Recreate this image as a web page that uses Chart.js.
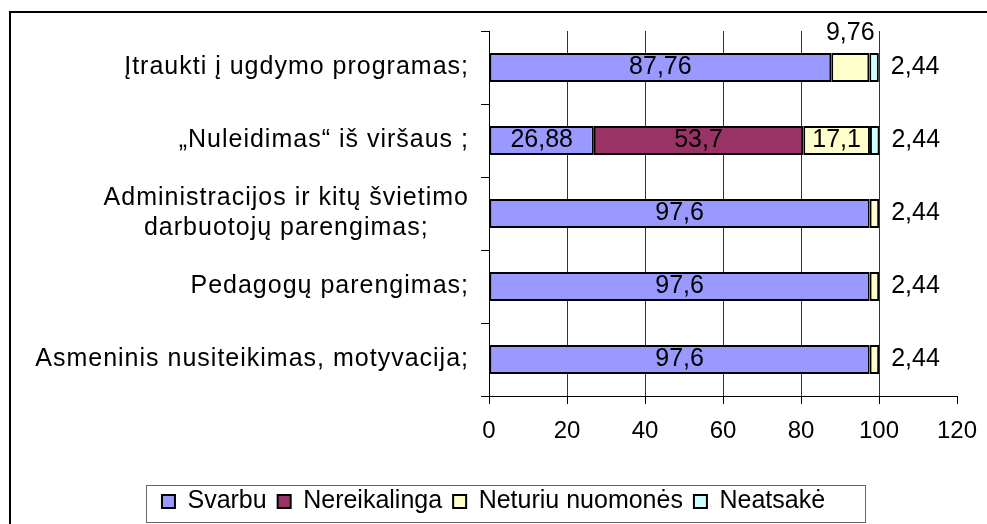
<!DOCTYPE html>
<html><head><meta charset="utf-8">
<script src="https://cdn.jsdelivr.net/npm/chart.js@4"></script>
<style>html,body{margin:0;padding:0;background:#fff}#wrap{width:987px;height:524px;position:relative}</style>
</head><body><div id="wrap"><canvas id="c" width="987" height="524"></canvas></div>
<script>
const categories = [
  ['Įtraukti į ugdymo programas;'],
  ['„Nuleidimas“ iš viršaus ;'],
  ['Administracijos ir kitų švietimo', 'darbuotojų parengimas;'],
  ['Pedagogų parengimas;'],
  ['Asmeninis nusiteikimas, motyvacija;']
];
const seriesNames = ['Svarbu', 'Nereikalinga', 'Neturiu nuomonės', 'Neatsakė'];
const svarbu = [87.76, 26.88, 97.6, 97.6, 97.6];
const nereikalinga = [0, 53.7, 0, 0, 0];
const neturiu = [9.76, 17.1, 2.44, 2.44, 2.44];
const neatsake = [2.44, 2.44, 0, 0, 0];
const xTicks = [0, 20, 40, 60, 80, 100, 120];
const seriesColors = ['#9999FF', '#993366', '#FFFFCC', '#CCFFFF'];

const FONT = '"Liberation Sans", Arial, sans-serif';
const fmt = v => String(v).replace('.', ',');

const valuePlugin = {
  id: 'vals',
  afterDatasetsDraw(chart) {
    const ctx = chart.ctx;
    ctx.save();
    ctx.font = '25px ' + FONT;
    ctx.fillStyle = '#000';
    ctx.textBaseline = 'middle';
    const n = chart.data.labels.length;
    for (let i = 0; i < n; i++) {
      let last = -1;
      chart.data.datasets.forEach((ds, d) => { if (ds.data[i] > 0) last = d; });
      chart.data.datasets.forEach((ds, d) => {
        const v = ds.data[i];
        if (!(v > 0)) return;
        const el = chart.getDatasetMeta(d).data[i];
        const left = Math.min(el.x, el.base), right = Math.max(el.x, el.base);
        const w = right - left;
        const txt = fmt(v);
        const tw = ctx.measureText(txt).width;
        const top = el.y - el.height / 2;
        if (tw + 4 <= w) {
          ctx.textAlign = 'center';
          ctx.fillText(txt, (left + right) / 2, el.y);
        } else if (d === last) {
          ctx.textAlign = 'left';
          ctx.fillText(txt, right + 12, el.y);
        } else {
          ctx.textAlign = 'center';
          ctx.fillText(txt, (left + right) / 2, top - 20);
        }
      });
    }
    ctx.restore();
  },
  afterDraw(chart) {
    const ctx = chart.ctx;
    const ys = chart.scales.y;
    ctx.save();
    // category labels
    ctx.font = '25px ' + FONT;
    if ('letterSpacing' in ctx) ctx.letterSpacing = '1px';
    ctx.fillStyle = '#000';
    ctx.textBaseline = 'middle';
    ctx.textAlign = 'center';
    const rightEdge = ys.right - 20;
    chart.data.labels.forEach((lines, i) => {
      const yc = ys.getPixelForValue(i);
      const maxW = Math.max(...lines.map(l => ctx.measureText(l).width));
      const cx = rightEdge - maxW / 2;
      const lh = 30;
      lines.forEach((l, k) => {
        ctx.fillText(l, cx, yc + (k - (lines.length - 1) / 2) * lh);
      });
    });
    if ('letterSpacing' in ctx) ctx.letterSpacing = '0px';
    // legend frame
    const hb = chart.legend.legendHitBoxes;
    if (hb && hb.length) {
      const x0 = hb[0].left - 16;
      const lastB = hb[hb.length - 1];
      const x1 = lastB.left + lastB.width + 40;
      const y0 = hb[0].top - 4;
      const y1 = 522;
      ctx.strokeStyle = '#666';
      ctx.lineWidth = 1;
      ctx.strokeRect(Math.round(x0) + 0.5, Math.round(y0) + 0.5, Math.round(x1 - x0), Math.round(y1 - y0));
    }
    // outer frame
    ctx.strokeStyle = '#000';
    ctx.lineWidth = 2;
    ctx.strokeRect(10, 12, 1200, 1000);
    ctx.restore();
  }
};

const dataSeries = [svarbu, nereikalinga, neturiu, neatsake];

new Chart(document.getElementById('c'), {
  type: 'bar',
  data: {
    labels: categories,
    datasets: dataSeries.map((arr, k) => ({
      label: seriesNames[k],
      data: arr,
      backgroundColor: seriesColors[k],
      borderColor: '#000',
      borderWidth: 2,
      borderSkipped: false,
      categoryPercentage: 1,
      barPercentage: 0.4
    }))
  },
  options: {
    indexAxis: 'y',
    responsive: false,
    animation: false,
    devicePixelRatio: 1,
    layout: { padding: { top: 31, left: 30, right: 30, bottom: 0 } },
    scales: {
      x: {
        stacked: true,
        min: 0, max: 120,
        afterBuildTicks: s => { s.ticks = xTicks.map(v => ({ value: v })); },
        afterFit: s => { s.height = 82; s.paddingRight = 0; s.paddingLeft = 0; },
        grid: {
          color: c => (c.tick && c.tick.value === 120) ? 'rgba(0,0,0,0)' : '#333',
          tickColor: '#000',
          tickLength: 8,
          lineWidth: 1
        },
        border: { display: true, color: '#000', width: 1 },
        ticks: { font: { family: FONT, size: 24 }, color: '#000', padding: 13, maxRotation: 0 }
      },
      y: {
        stacked: true,
        afterFit: s => { s.width = 459; },
        grid: { offset: true, drawOnChartArea: false, drawTicks: true, tickLength: 8, color: '#000', tickColor: '#000' },
        border: { display: true, color: '#000', width: 1 },
        ticks: { display: false }
      }
    },
    plugins: {
      tooltip: { enabled: false },
      legend: {
        position: 'bottom',
        labels: {
          font: { family: FONT, size: 25 },
          color: '#000',
          boxWidth: 13,
          boxHeight: 13,
          padding: 11
        }
      }
    }
  },
  plugins: [valuePlugin]
});
</script>
</body></html>
